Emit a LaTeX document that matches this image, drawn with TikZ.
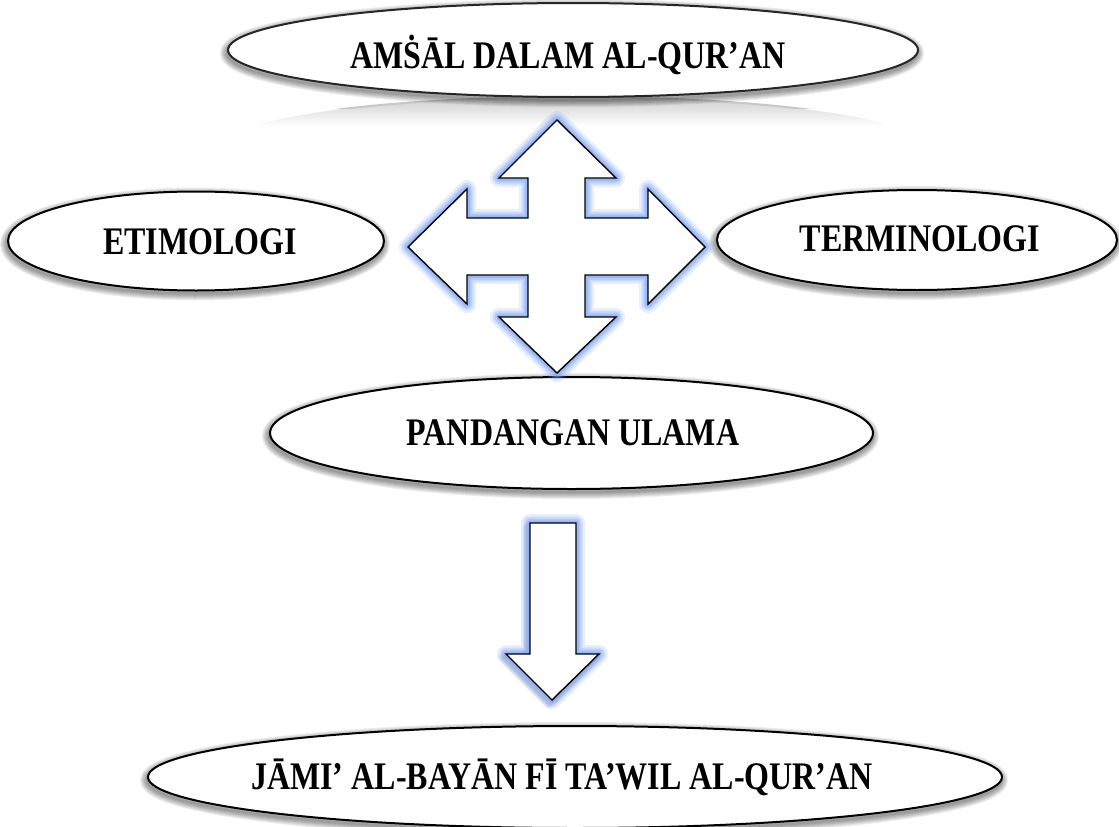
\documentclass[tikz,border=0pt]{standalone}
\usepackage{fontspec}
\setmainfont{Liberation Serif}
\usetikzlibrary{shapes.geometric,fadings}
\definecolor{glowblue}{RGB}{125,165,245}
\pgfdeclareradialshading{rim}{\pgfpoint{0bp}{0bp}}{color(0bp)=(white); color(40bp)=(white); color(50bp)=(black!28); color(100bp)=(black!28)}
\tikzset{
  oval/.style={ellipse, draw=black, line width=2pt, fill=white, inner sep=0pt},
  lbl/.style={anchor=base, inner sep=0pt, font=\bfseries\fontsize{32}{38}\selectfont},
  blockarrow/.style={draw=black, line width=1.4pt, fill=white, line join=miter},
  fourwaypath/.style={insert path={(557,120) -- (616,178) -- (585,178) -- (585,218) -- (648,218) -- (648,189) -- (705,247) -- (648,304) -- (648,275) -- (585,275) -- (585,317) -- (616,317) -- (557,373) -- (499,317) -- (528,317) -- (528,275) -- (467,275) -- (467,304) -- (408,247) -- (467,189) -- (467,218) -- (528,218) -- (528,178) -- (499,178) -- cycle}},
  downpath/.style={insert path={(530,523) -- (576,523) -- (576,654) -- (599,654) -- (552,700) -- (506,654) -- (530,654) -- cycle}},
}
\newcommand{\shadowell}[4]{%
  \foreach \w in {2,4,...,14}{\draw[black, opacity=0.065, line width=\w pt] (#1-1,#2+3) ellipse [x radius=#3pt, y radius=#4pt];}}
\newcommand{\glowpath}[1]{%
  \foreach \w/\o in {18/0.18,13/0.25,9/0.35,5/0.5}{\draw[glowblue, opacity=\o, line width=\w pt, line join=round, #1];}}
\newcommand{\tall}[1]{\scalebox{1}[1.22]{#1}}
\begin{document}
\begin{tikzpicture}[x=1pt, y=-1pt]
\useasboundingbox (0,0) rectangle (1119,827);
\fill[white] (0,0) rectangle (1119,827);

% reflection under the top ellipse
\begin{scope}
  \clip (573,144) ellipse [x radius=345pt, y radius=47pt];
  \shade[top color=black!20, bottom color=white] (220,96) rectangle (930,126);
\end{scope}
\begin{scope}
  \clip (220,96) rectangle (930,108);
  \draw[black!22, line width=2pt] (573,144) ellipse [x radius=345pt, y radius=47pt];
\end{scope}

% shadows
\shadowell{573}{50}{345}{47}
\shadowell{196}{241}{188}{49.5}
\shadowell{917}{240}{200}{50}
\shadowell{571.5}{433}{301.5}{56}
\shadowell{575}{777}{427}{51}

% ellipses
\node[oval, shading=rim, draw=black!85, minimum width=690pt, minimum height=94pt] (top) at (573,50) {};
\node[oval, minimum width=376pt, minimum height=99pt] (etim) at (196,241) {};
\node[oval, minimum width=400pt, minimum height=100pt] (term) at (917,240) {};
\node[oval, minimum width=603pt, minimum height=112pt] (pand) at (571.5,433) {};
\node[oval, minimum width=854pt, minimum height=102pt] (jami) at (575,777) {};

% labels
\node[lbl] (ttop) at (568,68) {\tall{AMṠĀL DALAM AL-QUR’AN}};
\node[lbl] (tetim) at (200,254) {\tall{ETIMOLOGI}};
\node[lbl] (tterm) at (920,251) {\tall{TERMINOLOGI}};
\node[lbl] (tpand) at (573,445) {\tall{PANDANGAN ULAMA}};
\node[lbl] (tjami) at (562,789) {\tall{JĀMI’ AL-BAYĀN FĪ TA’WIL AL-QUR’AN}};

% four-way block arrow
\glowpath{fourwaypath}
\draw[blockarrow, fourwaypath];

% down block arrow
\foreach \w in {3,6,9}{\draw[black, opacity=0.06, line width=\w pt, line join=round, shift={(-3pt,-4pt)}, downpath];}
\glowpath{downpath}
\draw[blockarrow, downpath];
\end{tikzpicture}
\end{document}
